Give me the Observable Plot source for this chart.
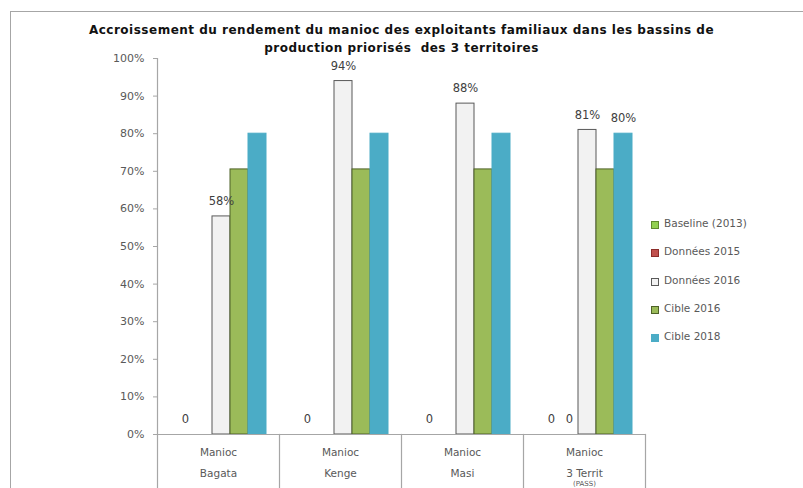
<!DOCTYPE html>
<html>
<head>
<meta charset="utf-8">
<script src="https://cdn.jsdelivr.net/npm/d3@7"></script>
<script src="https://cdn.jsdelivr.net/npm/@observablehq/plot@0.6"></script>
<style>
  html, body { margin: 0; padding: 0; background: #fff; }
  #wrap { position: relative; width: 803px; height: 488px; overflow: hidden; }
  #border { position: absolute; left: 10px; top: 11px; width: 800px; height: 490px; border: 1.5px solid #a6a6a6; box-sizing: border-box; }
  #title { position: absolute; left: 0; top: 21px; width: 803px; text-align: center; font-family: "DejaVu Sans", sans-serif; font-weight: bold; font-size: 12px; letter-spacing: 0.5px; line-height: 18px; color: #111; }
  #legend { position: absolute; left: 651px; top: 217px; font-family: "DejaVu Sans", sans-serif; font-size: 10.5px; color: #595959; }
  #legend .item { height: 28.3px; display: flex; align-items: flex-start; }
  #legend .sw { width: 6px; height: 6px; margin-right: 5px; margin-top: 4px; border: 1px solid; box-sizing: content-box; }
  #chart { position: absolute; left: 0; top: 0; }
</style>
</head>
<body>
<div id="wrap">
  <div id="border"></div>
  <div id="chart"></div>
  <div id="title">Accroissement du rendement du manioc des exploitants familiaux dans les bassins de<br>production priorisés &nbsp;des 3 territoires</div>
  <div id="legend"></div>
</div>
<script>
// ---- Data ----
const categories = ["Bagata", "Kenge", "Masi", "3 Territ"];
const categoryLabels = ["Manioc\nBagata", "Manioc\nKenge", "Manioc\nMasi", "Manioc\n3 Territ"];
const categoryNotes = [{cat: "3 Territ", note: "(PASS)"}];
const seriesNames = ["Baseline (2013)", "Données 2015", "Données 2016", "Cible 2016", "Cible 2018"];
const baseline2013 = [0, 0, 0, 0];
const donnees2015 = [null, null, null, 0];
const donnees2016 = [0.58, 0.94, 0.88, 0.81];
const cible2016 = [0.705, 0.705, 0.705, 0.705];
const cible2018 = [0.80, 0.80, 0.80, 0.80];
// which values carry a data label
const labelBaseline = [true, true, true, true];
const labelDonnees2015 = [false, false, false, true];
const labelDonnees2016 = [true, true, true, true];
const labelCible2016 = [false, false, false, false];
const labelCible2018 = [false, false, false, true];
const yTicks = [0, 0.1, 0.2, 0.3, 0.4, 0.5, 0.6, 0.7, 0.8, 0.9, 1.0];

// ---- Styles ----
const fills = ["#92d050", "#c0504d", "#f2f2f2", "#9bbb59", "#4bacc6"];
const strokes = ["#5f8a2e", "#8c2d2a", "#595959", "#4f6228", "#4bacc6"];

const seriesValues = [baseline2013, donnees2015, donnees2016, cible2016, cible2018];
const seriesLabels = [labelBaseline, labelDonnees2015, labelDonnees2016, labelCible2016, labelCible2018];
const rows = [];
categories.forEach((cat, i) => {
  seriesNames.forEach((s, j) => {
    const v = seriesValues[j][i];
    if (v == null) return;
    rows.push({cat, series: s, value: v, label: seriesLabels[j][i]});
  });
});
const fmt = v => v === 0 ? "0" : Math.round(v * 100) + "%";
const strokeOf = s => strokes[seriesNames.indexOf(s)];

const H = 488, MT = 58, MB = 54;
const plotH = H - MT - MB;
const grey = "#a6a6a6";

const chart = Plot.plot({
  width: 803,
  height: H,
  marginTop: MT,
  marginBottom: MB,
  marginLeft: 156,
  marginRight: 157,
  style: {fontFamily: "DejaVu Sans, sans-serif", fontSize: "10.5px", color: "#595959", background: "transparent"},
  fx: {domain: categories, paddingInner: 0, paddingOuter: 0, label: null},
  x: {domain: seriesNames, paddingInner: 0, paddingOuter: 0.77, align: 0.58, axis: null},
  y: {domain: [0, 1], label: null},
  color: {domain: seriesNames, range: fills},
  marks: [
    Plot.barY(rows.filter(d => d.value > 0), {
      fx: "cat", x: "series", y: "value", fill: "series",
      stroke: d => strokeOf(d.series), strokeWidth: 1
    }),
    Plot.ruleY([0], {stroke: grey, strokeWidth: 1.2}),
    Plot.frame({anchor: "left", facetAnchor: "left", stroke: grey, strokeWidth: 1.2, insetBottom: -MB}),
    Plot.frame({anchor: "right", stroke: grey, strokeWidth: 1.2, insetTop: plotH, insetBottom: -MB}),
    Plot.axisY({
      ticks: yTicks, tickFormat: d => Math.round(d * 100) + "%",
      tickSize: 4, tickPadding: 9, stroke: grey, fill: "#595959", fontSize: 11, label: null
    }),
    Plot.axisFx({
      anchor: "bottom", tickSize: 0, tickPadding: 7, lineHeight: 1.95,
      tickFormat: d => categoryLabels[categories.indexOf(d)],
      fill: "#595959", fontSize: 10.5, label: null
    }),
    Plot.text(categoryNotes, {
      fx: "cat", frameAnchor: "bottom", dy: 49, text: "note",
      fill: "#595959", fontSize: 7, lineAnchor: "middle"
    }),
    Plot.text(rows.filter(d => d.label), {
      fx: "cat", x: "series", y: "value", text: d => fmt(d.value),
      dy: -15, fill: "#404040", fontSize: 11.5
    })
  ]
});
document.getElementById("chart").appendChild(chart);

// ---- Legend ----
const legend = document.getElementById("legend");
seriesNames.forEach((s, j) => {
  const item = document.createElement("div");
  item.className = "item";
  const sw = document.createElement("span");
  sw.className = "sw";
  sw.style.background = fills[j];
  sw.style.borderColor = j === 4 ? fills[j] : strokes[j];
  const t = document.createElement("span");
  t.textContent = s;
  item.appendChild(sw);
  item.appendChild(t);
  legend.appendChild(item);
});
</script>
</body>
</html>
